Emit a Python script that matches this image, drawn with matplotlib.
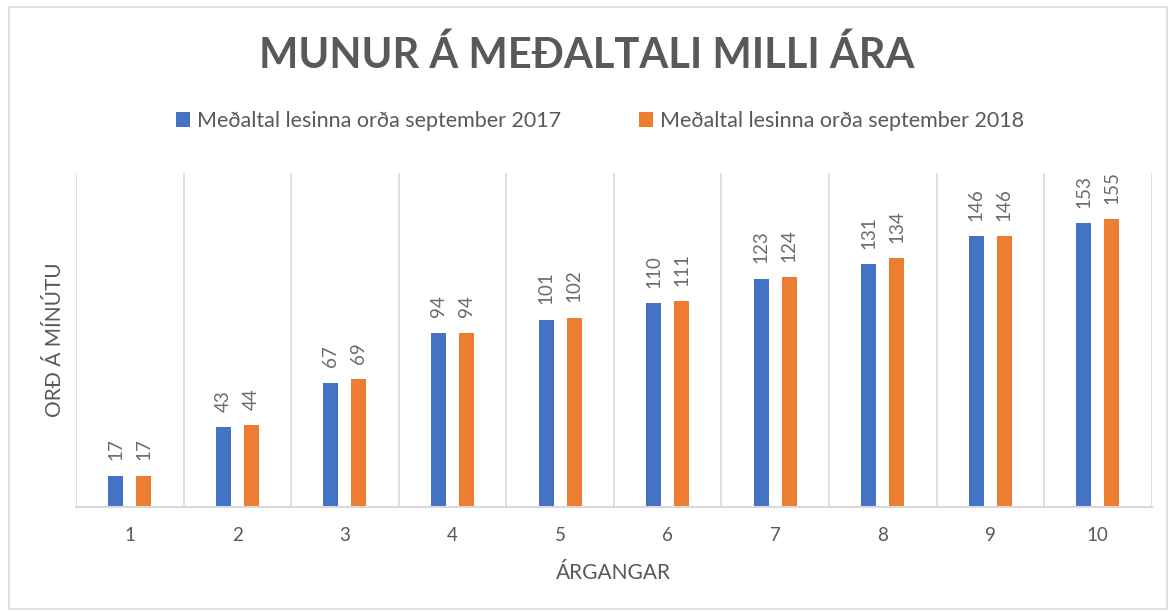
import matplotlib.pyplot as plt
import numpy as np
from matplotlib.patches import Rectangle

# data
argangar = ["1", "2", "3", "4", "5", "6", "7", "8", "9", "10"]
ar2017 = [17, 43, 67, 94, 101, 110, 123, 131, 146, 153]
ar2018 = [17, 44, 69, 94, 102, 111, 124, 134, 146, 155]
nafn2017 = "Meðaltal lesinna orða september 2017"
nafn2018 = "Meðaltal lesinna orða september 2018"

BLUE = "#4472C4"
ORANGE = "#ED7D31"
GREY = "#595959"
GRID = "#D9D9D9"

plt.rcParams['font.family'] = ['Lato', 'DejaVu Sans']

fig = plt.figure(figsize=(11.73, 6.11), dpi=100)
ax = fig.add_axes([0.0648, 0.170, 0.917, 0.547])

x = np.arange(len(argangar))
w = 0.14
off = 0.13
b1 = ax.bar(x - off, ar2017, w, color=BLUE, label=nafn2017)
b2 = ax.bar(x + off, ar2018, w, color=ORANGE, label=nafn2018)

for bars, vals in ((b1, ar2017), (b2, ar2018)):
    for r, v in zip(bars, vals):
        ax.annotate(str(v), (r.get_x() + r.get_width() / 2, v),
                    xytext=(0, 11), textcoords="offset points",
                    rotation=90, ha="center", va="bottom",
                    fontsize=13.5, color="#6b6b6b")

ax.set_xlim(-0.5, len(argangar) - 0.5)
ax.set_ylim(0, 180)
ax.set_xticks(x)
ax.set_xticklabels(argangar, fontsize=13.5, color=GREY)
ax.set_yticks([])
ax.tick_params(axis="x", length=0, pad=14)

# category separators
for b in np.arange(-0.5, len(argangar), 1.0):
    ax.axvline(b, color=GRID, lw=1.2, zorder=0)

for s in ("top", "right", "left"):
    ax.spines[s].set_visible(False)
ax.spines["bottom"].set_color(GRID)
ax.spines["bottom"].set_linewidth(1.5)

ax.set_xlabel("ÁRGANGAR", fontsize=15, color=GREY, labelpad=14)
ax.set_ylabel("ORÐ Á MÍNÚTU", fontsize=15, color=GREY, labelpad=8)

fig.text(0.5, 0.91, "MUNUR Á MEÐALTALI MILLI ÁRA", ha="center", va="center",
         fontsize=30, fontweight="bold", color=GREY)

fig.legend(handles=[b1, b2], loc="center", bbox_to_anchor=(0.5115, 0.802),
           ncol=2, frameon=False, fontsize=15.5, labelcolor=GREY,
           handlelength=0.65, handleheight=0.65, handletextpad=0.35,
           columnspacing=3.6)

fig.patches.append(Rectangle((0.008, 0.004), 0.987, 0.985, transform=fig.transFigure,
                             fill=False, edgecolor=GRID, lw=1.2))

fig.savefig("out.png", dpi=100)
